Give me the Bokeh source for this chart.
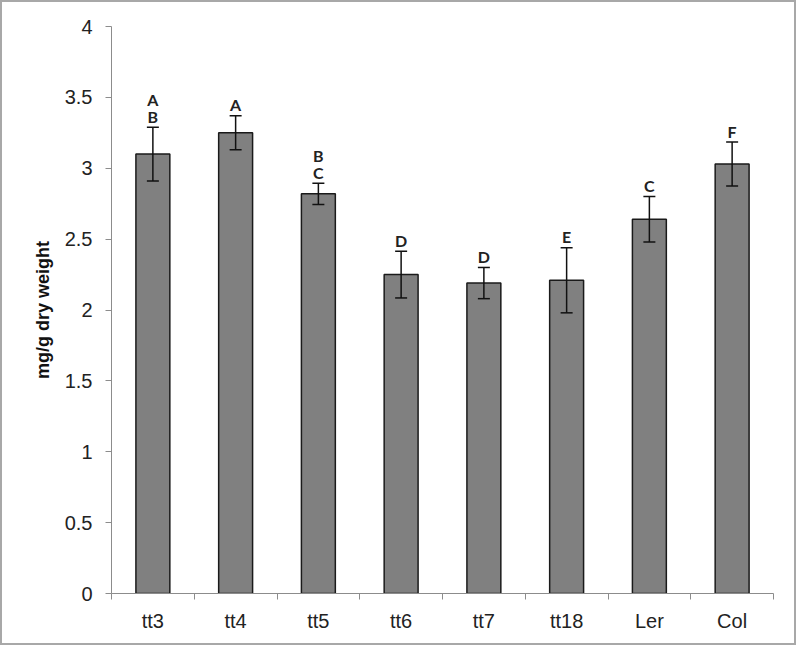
from bokeh.plotting import figure
from bokeh.models import FixedTicker, Whisker, ColumnDataSource, Range1d, TeeHead
from bokeh.core.properties import value
from bokeh.embed import file_html
from bokeh.resources import INLINE

genotypes = ["tt3", "tt4", "tt5", "tt6", "tt7", "tt18", "Ler", "Col"]
means = [3.10, 3.25, 2.82, 2.25, 2.19, 2.21, 2.64, 3.03]
errors = [0.19, 0.12, 0.075, 0.165, 0.11, 0.23, 0.16, 0.155]
letters_lower = ["B", "A", "C", "D", "D", "E", "C", "F"]
letters_upper = ["A", "", "B", "", "", "", "", ""]
y_ticks = [0, 0.5, 1, 1.5, 2, 2.5, 3, 3.5, 4]
y_tick_labels = ["0", "0.5", "1", "1.5", "2", "2.5", "3", "3.5", "4"]
y_title = "mg/g dry weight"

xs = [i + 0.5 for i in range(len(genotypes))]
src = ColumnDataSource(dict(
    x=xs, mean=means,
    upper=[m + e for m, e in zip(means, errors)],
    lower=[m - e for m, e in zip(means, errors)],
    lo_letter=letters_lower, up_letter=letters_upper,
))

p = figure(width=796, height=645, output_backend="svg", toolbar_location=None,
           x_range=Range1d(0, len(genotypes)), y_range=Range1d(0, 4),
           min_border_left=109, min_border_right=25, min_border_top=24, min_border_bottom=54)
p.styles = {"border": "2px solid #a8a8a8"}
p.outline_line_color = None
p.xgrid.visible = False
p.ygrid.visible = False

p.vbar(x="x", top="mean", bottom=0, width=0.41, source=src,
       fill_color="#808080", line_color="#1a1a1a", line_width=1.5)

head = dict(size=12, line_color="#111111", line_width=1.5)
p.add_layout(Whisker(base="x", upper="upper", lower="lower", source=src, level="overlay",
                     line_color="#111111", line_width=1.5,
                     upper_head=TeeHead(**head), lower_head=TeeHead(**head)))

txt = dict(text_align="center", text_baseline="alphabetic", text_font=value("Lato"),
           text_font_style="bold", text_font_size="16px", text_color="#222222")
p.text(x="x", y="upper", text="lo_letter", y_offset=-11, source=src, **txt)
p.text(x="x", y="upper", text="up_letter", y_offset=-27.5, source=src, **txt)

ax_color = "#8c8c8c"
xa = p.xaxis[0]
xa.ticker = FixedTicker(ticks=xs, minor_ticks=list(range(len(genotypes) + 1)))
xa.major_label_overrides = {x: g for x, g in zip(xs, genotypes)}
xa.major_tick_out = 0
xa.major_tick_in = 0
xa.minor_tick_out = 6
xa.minor_tick_in = 0
xa.minor_tick_line_color = ax_color
xa.axis_line_color = ax_color
xa.major_label_standoff = 10
xa.major_label_text_font = "Liberation Sans"
xa.major_label_text_font_size = "20px"
xa.major_label_text_color = "#222222"

ya = p.yaxis[0]
ya.ticker = FixedTicker(ticks=y_ticks)
ya.major_label_overrides = {t: l for t, l in zip(y_ticks, y_tick_labels)}
ya.major_tick_out = 6
ya.major_tick_in = 0
ya.major_tick_line_color = ax_color
ya.minor_tick_line_color = None
ya.axis_line_color = ax_color
ya.major_label_standoff = 13
ya.major_label_text_font = "Liberation Sans"
ya.major_label_text_font_size = "20px"
ya.major_label_text_color = "#222222"
ya.axis_label = y_title
ya.axis_label_text_font = "Liberation Sans"
ya.axis_label_text_font_style = "bold"
ya.axis_label_text_font_size = "18px"
ya.axis_label_text_color = "#111111"
ya.axis_label_standoff = 9

open("out.html", "w").write(file_html(p, INLINE))
